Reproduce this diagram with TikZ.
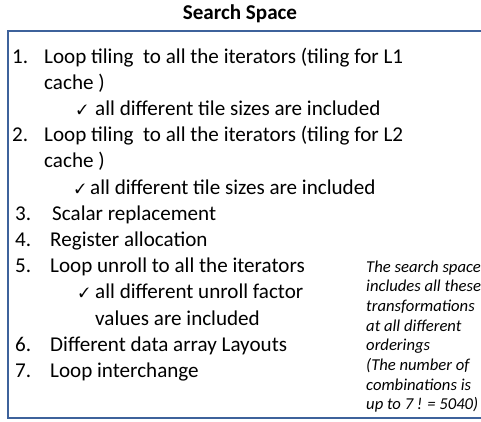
\documentclass[tikz,border=0pt]{standalone}
\usepackage{fontspec}
\setmainfont{Carlito}
\usepackage{pifont}
\definecolor{boxblue}{RGB}{62,98,155}

\begin{document}
\begin{tikzpicture}[x=0.03cm,y=-0.03cm,
  item/.style={anchor=base west,inner sep=0pt,font=\fontsize{18}{22}\selectfont},
  note/.style={anchor=base west,inner sep=0pt,font=\fontsize{14.2}{17}\selectfont\itshape},
  tick/.style={anchor=base west,inner sep=0pt,font=\fontsize{11.5}{14}\selectfont}]
\useasboundingbox (0,0) rectangle (481,421);
% ---- title and frame ----
\node[anchor=base,inner sep=0pt,font=\fontsize{18}{22}\selectfont\bfseries] (title) at (240,20) {Search Space};
\draw[boxblue,line width=1.6pt] (8,31) rectangle (486,418);
% ---- items 1 and 2: tiling ----
\node[item] (n1) at (12,63) {1.};
\node[item] (t1) at (44,63) {Loop tiling\ \ to all the iterators (tiling for L1};
\node[item] (t1b) at (44,89.2) {cache )};
\node[tick] (c1) at (77,114.4) {\ding{51}};
\node[item] (s1) at (95,115.4) {all different tile sizes are included};
\node[item] (n2) at (12,141.6) {2.};
\node[item] (t2) at (44,141.6) {Loop tiling\ \ to all the iterators (tiling for L2};
\node[item] (t2b) at (44,167.8) {cache )};
\node[tick] (c2) at (75,193) {\ding{51}};
\node[item] (s2) at (90,194) {all different tile sizes are included};
% ---- items 3 to 7 ----
\node[item] (n3) at (15,220.2) {3.};
\node[item] (t3) at (52,220.2) {Scalar replacement};
\node[item] (n4) at (15,246.4) {4.};
\node[item] (t4) at (50,246.4) {Register allocation};
\node[item] (n5) at (15,272.6) {5.};
\node[item] (t5) at (50,272.6) {Loop unroll to all the iterators};
\node[tick] (c5) at (79,297.8) {\ding{51}};
\node[item] (s5) at (95,298.8) {all different unroll factor};
\node[item] (s5b) at (95,325) {values are included};
\node[item] (n6) at (15,351.2) {6.};
\node[item] (t6) at (50,351.2) {Different data array Layouts};
\node[item] (n7) at (15,377.4) {7.};
\node[item] (t7) at (50,377.4) {Loop interchange};
% ---- right: note on the orderings ----
\foreach \t [count=\k from 0] in {{The search space},{includes all these},{transformations},{at all different},{orderings},{(The number of},{combinations is},{up to 7 ! = 5040)}}{
  \node[note] (r\k) at (366,{272+19.7*\k}) {\t};
}
\end{tikzpicture}
\end{document}
